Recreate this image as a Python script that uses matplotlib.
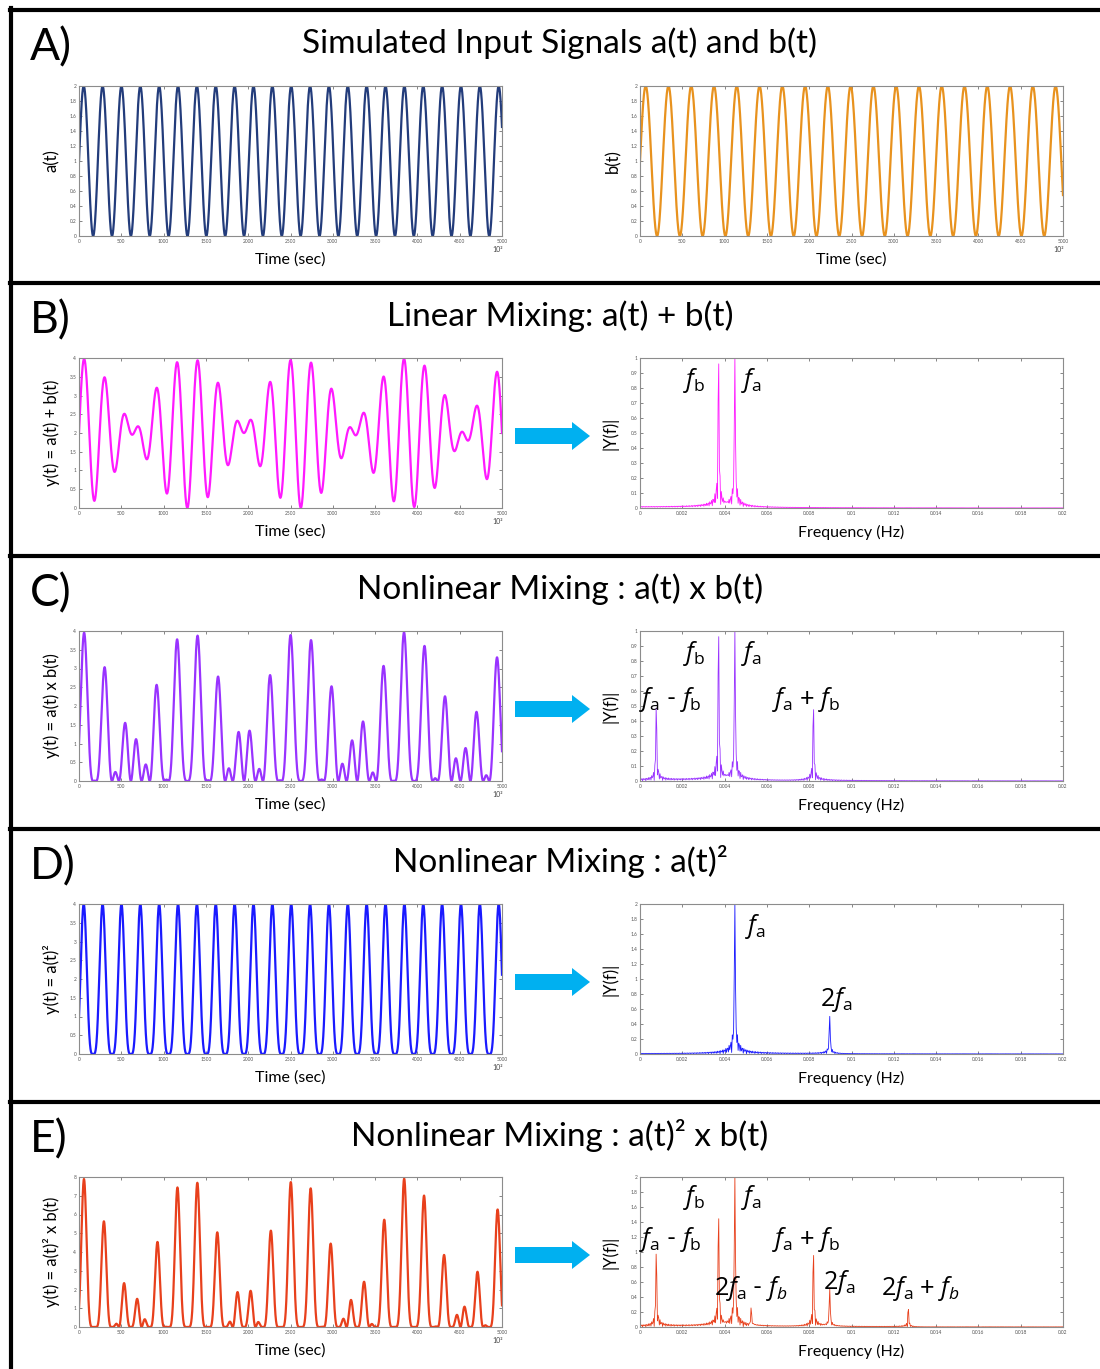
import numpy as np
import matplotlib
matplotlib.use("Agg")
import matplotlib.pyplot as plt
from matplotlib.lines import Line2D
from matplotlib.patches import Polygon
from matplotlib.ticker import FormatStrFormatter, MultipleLocator

plt.rcParams['font.family'] = ['Lato', 'DejaVu Sans']
plt.rcParams['mathtext.fontset'] = 'custom'
plt.rcParams['mathtext.rm'] = 'Open Sans'
plt.rcParams['mathtext.it'] = 'Open Sans:italic'

# simulation settings
fs = 1.0            # samples / sec
t_show = 5000       # sec shown in the time plots
t_record = 20000    # sec used for the spectra
f_a = 0.004485      # Hz
f_b = 0.003715      # Hz

panel_letters = ['A)', 'B)', 'C)', 'D)', 'E)']
panel_titles = ['Simulated Input Signals a(t) and b(t)',
                'Linear Mixing: a(t) + b(t)',
                'Nonlinear Mixing : a(t) x b(t)',
                'Nonlinear Mixing : a(t)\u00b2',
                'Nonlinear Mixing : a(t)\u00b2 x b(t)']
time_ylabels = ['y(t) = a(t) + b(t)', 'y(t) = a(t) x b(t)',
                'y(t) = a(t)\u00b2', 'y(t) = a(t)\u00b2 x b(t)']
time_ylims = [4, 4, 4, 8]
time_ysteps = [0.5, 0.5, 0.5, 1]
spec_ylims = [1, 1, 2, 2]
spec_ysteps = [0.1, 0.1, 0.2, 0.2]
colors = ['#FF1AFF', '#9933FF', '#1A1AFF', '#E8401C']
color_a = '#233C7B'
color_b = '#E8921E'
arrow_color = '#00B0F0'

# peak labels for each spectrum: (text, freq, height)
peak_labels = [
    [(r'$f_\mathrm{b}$', 0.00255, 0.85), (r'$f_\mathrm{a}$', 0.00525, 0.85)],
    [(r'$f_\mathrm{b}$', 0.00255, 0.85), (r'$f_\mathrm{a}$', 0.00525, 0.85),
     (r'$f_\mathrm{a}$ - $f_\mathrm{b}$', 0.00145, 0.54),
     (r'$f_\mathrm{a}$ + $f_\mathrm{b}$', 0.00785, 0.54)],
    [(r'$f_\mathrm{a}$', 0.00548, 1.70), (r'$2f_\mathrm{a}$', 0.00927, 0.73)],
    [(r'$f_\mathrm{b}$', 0.00255, 1.72), (r'$f_\mathrm{a}$', 0.00525, 1.72),
     (r'$f_\mathrm{a}$ - $f_\mathrm{b}$', 0.00145, 1.17),
     (r'$f_\mathrm{a}$ + $f_\mathrm{b}$', 0.00785, 1.17),
     (r'$2f_\mathrm{a}$ - $f_b$', 0.00525, 0.51),
     (r'$2f_\mathrm{a}$', 0.0094, 0.59),
     (r'$2f_\mathrm{a}$ + $f_b$', 0.01324, 0.51)],
]

t = np.arange(0, t_record + 1) / fs
a = 1 + np.sin(2 * np.pi * f_a * t)
b = 1 + np.sin(2 * np.pi * f_b * t)
mixes = [a + b, a * b, a ** 2, a ** 2 * b]
shown = t <= t_show


def spectrum(y):
    """Single-sided amplitude spectrum, zero padded to the next power of 2."""
    L = len(y)
    nfft = 2 ** int(np.ceil(np.log2(L)))
    Y = np.fft.fft(y - y.mean(), nfft) / L
    f = fs / 2 * np.linspace(0, 1, nfft // 2 + 1)
    return f, 2 * np.abs(Y[:nfft // 2 + 1])


W, H = 1100, 1369
fig = plt.figure(figsize=(W / 100, H / 100), dpi=100)


def px_rect(x0, y0, x1, y1):
    return [x0 / W, 1 - y1 / H, (x1 - x0) / W, (y1 - y0) / H]


def style_axes(ax, xmax, xstep, ymax, ystep):
    ax.set_xlim(0, xmax)
    ax.set_ylim(0, ymax)
    ax.xaxis.set_major_locator(MultipleLocator(xstep))
    ax.yaxis.set_major_locator(MultipleLocator(ystep))
    ax.xaxis.set_major_formatter(FormatStrFormatter('%g'))
    ax.yaxis.set_major_formatter(FormatStrFormatter('%g'))
    ax.tick_params(direction='in', length=2.5, width=0.5, labelsize=3.5,
                   pad=2, top=True, right=True, colors='#555555')
    for s in ax.spines.values():
        s.set_color('#8c8c8c')
        s.set_linewidth(0.8)


def time_axes(top, left, right, y, color, ylabel, ymax, ystep):
    ax = fig.add_axes(px_rect(left, top, right, top + 150))
    ax.plot(t[shown], y[shown], color=color, lw=1.6)
    style_axes(ax, t_show, 500, ymax, ystep)
    ax.set_xlabel('Time (sec)', fontsize=11.5)
    ax.xaxis.set_label_coords(0.5, -0.11)
    ax.set_ylabel(ylabel, fontsize=12)
    ax.yaxis.set_label_coords(-0.045, 0.5)
    ax.text(0.99, -0.09, '10\u00b2', transform=ax.transAxes, fontsize=5,
            ha='center', va='center', color='#444444')
    return ax


def spec_axes(top, y, color, ymax, ystep, labels):
    ax = fig.add_axes(px_rect(640, top, 1063, top + 150))
    f, amp = spectrum(y)
    ax.plot(f, amp, color=color, lw=0.6)
    style_axes(ax, 0.02, 0.002, ymax, ystep)
    ax.set_xlabel('Frequency (Hz)', fontsize=11.5)
    ax.xaxis.set_label_coords(0.5, -0.11)
    ax.set_ylabel('|Y(f)|', fontsize=12)
    ax.yaxis.set_label_coords(-0.05, 0.5)
    for txt, fx, fy in labels:
        ax.text(fx, fy, txt, fontsize=18, ha='center', va='center',
                color='black', clip_on=False)
    return ax


def arrow(yc):
    pts = [(515, yc - 8), (572, yc - 8), (572, yc - 14), (590, yc),
           (572, yc + 14), (572, yc + 8), (515, yc + 8)]
    pts = [(x / W, 1 - yy / H) for x, yy in pts]
    fig.patches.append(Polygon(pts, closed=True, transform=fig.transFigure,
                               facecolor=arrow_color, edgecolor='none'))


# frame lines around the five panels
seps = [10 + 273 * k for k in range(5)]
lw_frame = 3.0
fig.add_artist(Line2D([11 / W, 11 / W], [1 - 8 / H, 0], color='black',
                      lw=lw_frame, transform=fig.transFigure))
for s in seps:
    fig.add_artist(Line2D([10 / W, 1], [1 - s / H, 1 - s / H], color='black',
                          lw=lw_frame, transform=fig.transFigure))

for k, s in enumerate(seps):
    fig.text(30 / W, 1 - (s + 38) / H, panel_letters[k], fontsize=32,
             ha='left', va='center')
    fig.text(560 / W, 1 - (s + 33) / H, panel_titles[k], fontsize=24,
             ha='center', va='center')

top0 = seps[0] + 76
time_axes(top0, 79, 502, a, color_a, 'a(t)', 2, 0.2)
time_axes(top0, 640, 1063, b, color_b, 'b(t)', 2, 0.2)

for k in range(4):
    top = seps[k + 1] + 75
    time_axes(top, 79, 502, mixes[k], colors[k], time_ylabels[k],
              time_ylims[k], time_ysteps[k])
    spec_axes(top, mixes[k], colors[k], spec_ylims[k], spec_ysteps[k],
              peak_labels[k])
    arrow(seps[k + 1] + 153)

fig.savefig('out.png', dpi=100)
